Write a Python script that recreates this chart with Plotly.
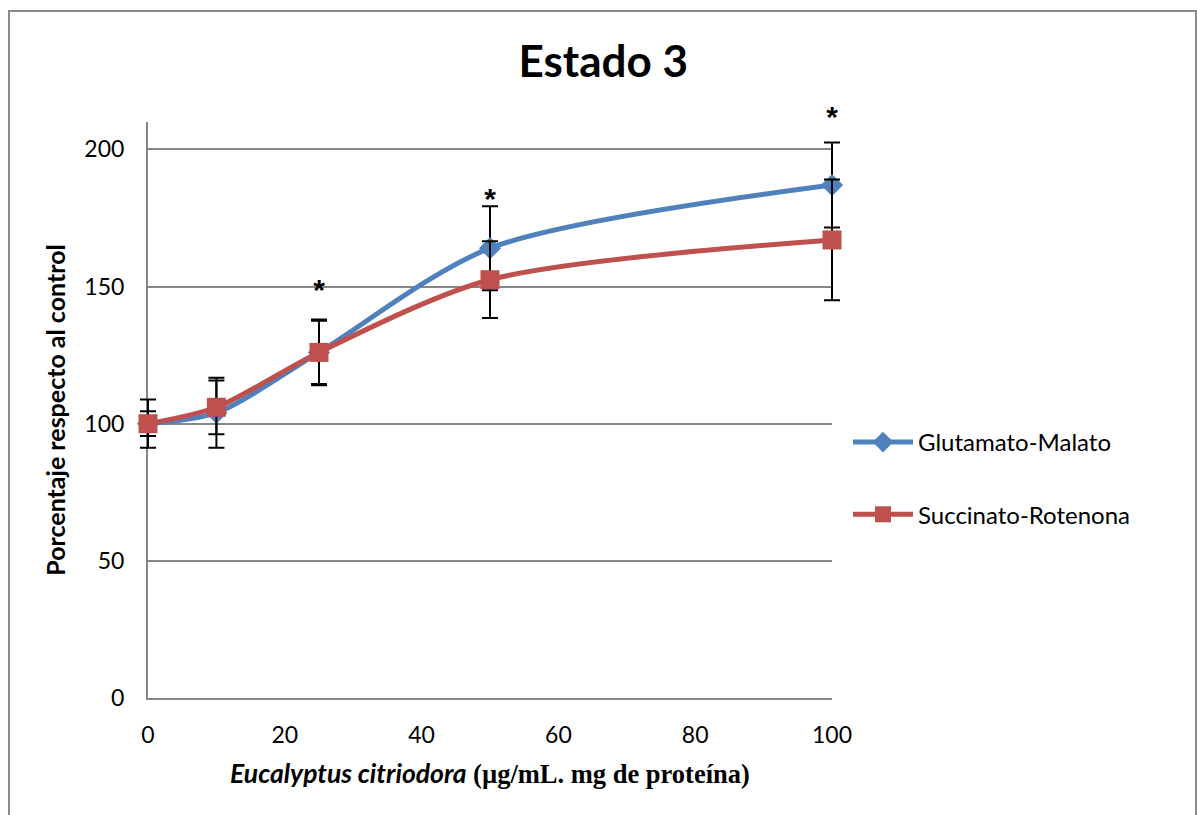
import plotly.graph_objects as go

x_vals = [0, 10, 25, 50, 100]
glut = [100, 104, 126, 164, 187]
glut_err = [8.8, 12.8, 12, 15.3, 15.5]
succ = [100, 106, 126, 152.5, 167]
succ_err = [4.5, 9.8, 11.5, 14, 22]
star_x = [25, 50, 100]
star_y = [148, 181, 211]

BLUE = "#4F81BD"
RED = "#C0504D"
FONT = "Lato"

# pixel geometry of the main plot area
L_PX, R_PX = 148, 832
T_PX, B_PX = 122, 698
Y_MAX = 210
PAD = 20     # extra horizontal room for the wide (unclipped) data subplot
PADY = 40    # extra vertical room above
W, H = 1197, 815
pxu = (R_PX - L_PX) / 100.0
pyu = (B_PX - T_PX) / Y_MAX
wide_xrange = [-PAD / pxu, 100 + PAD / pxu]
wide_yrange = [0, Y_MAX + PADY / pyu]
paper_w = (R_PX - L_PX) + 2 * PAD
paper_l = L_PX - PAD
paper_h = (B_PX - T_PX) + PADY

fig = go.Figure()
# empty trace that keeps the main (visible) subplot alive
fig.add_trace(go.Scatter(x=[], y=[], showlegend=False, hoverinfo="skip", xaxis="x", yaxis="y"))
fig.add_trace(go.Scatter(
    x=x_vals, y=glut, name="Glutamato-Malato", mode="lines+markers",
    line=dict(color=BLUE, width=5, shape="spline", smoothing=0.8),
    marker=dict(symbol="diamond", size=17, color=BLUE),
    error_y=dict(type="data", array=glut_err, color="black", thickness=2, width=8),
    legendgroup="g1", cliponaxis=False, xaxis="x2", yaxis="y2",
))
fig.add_trace(go.Scatter(
    x=x_vals, y=succ, name="Succinato-Rotenona", mode="lines+markers",
    line=dict(color=RED, width=5, shape="spline", smoothing=0.8),
    marker=dict(symbol="square", size=19, color=RED),
    error_y=dict(type="data", array=succ_err, color="black", thickness=2, width=8),
    legendgroup="g2", cliponaxis=False, xaxis="x2", yaxis="y2",
))
fig.add_trace(go.Scatter(
    x=star_x, y=star_y, mode="text", text=["<b>*</b>"] * len(star_x),
    textfont=dict(size=30, color="black", family="Liberation Sans"),
    showlegend=False, cliponaxis=False, hoverinfo="skip", xaxis="x2", yaxis="y2",
))

fig.update_layout(
    width=W, height=H,
    margin=dict(l=paper_l, r=W - (R_PX + PAD), t=T_PX - PADY, b=H - B_PX),
    paper_bgcolor="white", plot_bgcolor="rgba(0,0,0,0)",
    font=dict(family=FONT, color="black"),
    title=dict(text="<b>Estado 3</b>", x=0.504, xanchor="center", y=0.924, yanchor="middle",
               font=dict(size=44, family=FONT, color="black")),
    legend=dict(x=(848 - paper_l) / paper_w, y=(B_PX - 420) / paper_h, xanchor="left", yanchor="top",
                font=dict(size=24, family=FONT), tracegroupgap=38, itemwidth=60,
                bgcolor="rgba(0,0,0,0)"),
    showlegend=True,
    xaxis=dict(
        domain=[PAD / paper_w, 1 - PAD / paper_w], anchor="y",
        range=[0, 100], tickvals=[0, 20, 40, 60, 80, 100], showgrid=False, zeroline=False,
        showline=True, linecolor="#868686", linewidth=2, ticks="",
        tickfont=dict(size=23, family=FONT), ticklabelstandoff=15,
        title=dict(text="<b><i>Eucalyptus citriodora</i> <span style=\"font-family:'Liberation Serif'\">(µg/mL. mg de proteína)</span></b>",
                   font=dict(size=26.5, family=FONT), standoff=18),
    ),
    yaxis=dict(
        domain=[0, (B_PX - T_PX) / paper_h], anchor="x",
        range=[0, Y_MAX], tickvals=[0, 50, 100, 150, 200], showgrid=True, gridcolor="#868686", gridwidth=1.5,
        zeroline=False, showline=True, linecolor="#868686", linewidth=2, ticks="",
        tickfont=dict(size=23, family=FONT), ticklabelstandoff=17,
        title=dict(text="<b>Porcentaje respecto al control</b>", font=dict(size=25, family=FONT), standoff=12),
    ),
    xaxis2=dict(domain=[0, 1], anchor="y2", range=wide_xrange, visible=False, showgrid=False, zeroline=False),
    yaxis2=dict(domain=[0, 1], anchor="x2", range=wide_yrange, visible=False, showgrid=False, zeroline=False),
)

# outer border of the chart area
fig.add_shape(type="rect", xref="paper", yref="paper",
              x0=(9 - paper_l) / paper_w, x1=(1196 - paper_l) / paper_w,
              y0=(B_PX - 830) / paper_h, y1=(B_PX - 11) / paper_h,
              line=dict(color="#8c8c8c", width=2), fillcolor="rgba(0,0,0,0)", layer="below")

fig.write_html("out.html", config={"displayModeBar": False},
               post_script="document.body.style.margin='0';document.body.style.overflow='hidden';")
